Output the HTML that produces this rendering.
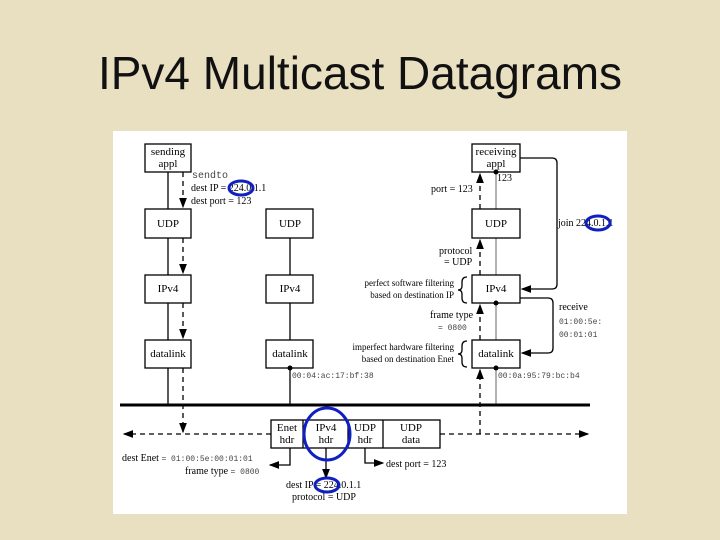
<!DOCTYPE html>
<html><head><style>
body{margin:0;width:720px;height:540px;overflow:hidden;background:#e9dfc1;}
.t{position:absolute;left:0;width:720px;top:46px;text-align:center;font:46px "Liberation Sans",sans-serif;color:#111;}
</style></head><body>
<div class="t">IPv4 Multicast Datagrams</div>
<svg width="720" height="540" style="position:absolute;left:0;top:0" font-family="Liberation Serif,serif" font-size="11">
<defs><marker id="a" markerWidth="8" markerHeight="8" refX="7" refY="4" orient="auto"><path d="M0,1 L8,4 L0,7Z" fill="#000"/></marker></defs>
<rect x="113" y="131" width="514" height="383" fill="#fff"/>
<g stroke="#000" stroke-width="1.3" fill="#fff">
<line x1="168" y1="172" x2="168" y2="405"/>
<line x1="290" y1="238" x2="290" y2="405"/>
<line x1="496" y1="158" x2="496" y2="405" stroke="#888"/>
<rect x="145" y="144" width="46" height="28"/>
<rect x="145" y="209" width="46" height="29"/>
<rect x="145" y="275" width="46" height="28"/>
<rect x="145" y="340" width="46" height="28"/>
<rect x="266" y="209" width="47" height="29"/>
<rect x="266" y="275" width="47" height="28"/>
<rect x="266" y="340" width="47" height="28"/>
<rect x="472" y="144" width="48" height="28"/>
<rect x="472" y="209" width="48" height="29"/>
<rect x="472" y="275" width="48" height="28"/>
<rect x="472" y="340" width="48" height="28"/>
<rect x="271" y="420" width="169" height="28"/>
<line x1="303" y1="420" x2="303" y2="448"/><line x1="348" y1="420" x2="348" y2="448"/><line x1="383" y1="420" x2="383" y2="448"/>
</g>
<line x1="120" y1="405" x2="590" y2="405" stroke="#000" stroke-width="3"/>
<g stroke="#000" stroke-width="1.3" stroke-dasharray="5,4" fill="none">
<line x1="183" y1="172" x2="183" y2="207" marker-end="url(#a)"/>
<line x1="183" y1="238" x2="183" y2="273" marker-end="url(#a)"/>
<line x1="183" y1="303" x2="183" y2="338" marker-end="url(#a)"/>
<line x1="183" y1="368" x2="183" y2="432" marker-end="url(#a)"/>
<line x1="271" y1="434" x2="124" y2="434" marker-end="url(#a)"/>
<line x1="440" y1="434" x2="588" y2="434" marker-end="url(#a)"/>
<line x1="480" y1="434" x2="480" y2="370" marker-end="url(#a)"/>
<line x1="480" y1="340" x2="480" y2="305" marker-end="url(#a)"/>
<line x1="480" y1="275" x2="480" y2="240" marker-end="url(#a)"/>
<line x1="480" y1="209" x2="480" y2="174" marker-end="url(#a)"/>
</g>
<g stroke="#000" stroke-width="1.3" fill="none">
<path d="M520,158 H552 Q557,158 557,163 V284 Q557,289 552,289 H522" marker-end="url(#a)"/>
<path d="M520,298 H548 Q553,298 553,303 V348 Q553,353 548,353 H522" marker-end="url(#a)"/>
<path d="M290,448 V465 H270" marker-end="url(#a)"/>
<path d="M326,448 V478" marker-end="url(#a)"/>
<path d="M365,448 V463 H383" marker-end="url(#a)"/>
<path d="M467,277 q-5,0 -5,5 v4 q0,4 -4,4 q4,0 4,4 v4 q0,5 5,5"/>
<path d="M467,341 q-5,0 -5,5 v4 q0,4 -4,4 q4,0 4,4 v4 q0,5 5,5"/>
</g>
<g fill="#000"><circle cx="496" cy="172" r="2.5"/><circle cx="496" cy="303" r="2.5"/><circle cx="496" cy="368" r="2.5"/><circle cx="290" cy="368" r="2.5"/></g>
<g text-anchor="middle">
<text x="168" y="155">sending</text><text x="168" y="167">appl</text>
<text x="168" y="227">UDP</text><text x="168" y="292">IPv4</text><text x="168" y="357">datalink</text>
<text x="290" y="227">UDP</text><text x="290" y="292">IPv4</text><text x="290" y="357">datalink</text>
<text x="496" y="155">receiving</text><text x="496" y="167">appl</text>
<text x="496" y="227">UDP</text><text x="496" y="292">IPv4</text><text x="496" y="357">datalink</text>
<text x="287" y="431">Enet</text><text x="287" y="443">hdr</text>
<text x="326" y="431">IPv4</text><text x="326" y="443">hdr</text>
<text x="365" y="431">UDP</text><text x="365" y="443">hdr</text>
<text x="411" y="431">UDP</text><text x="411" y="443">data</text>
</g>
<g font-size="10">
<text x="192" y="178" font-family="Liberation Mono,monospace" fill="#444">sendto</text>
<text x="191" y="191">dest IP = 224.0.1.1</text>
<text x="191" y="204">dest port = 123</text>
<text x="497" y="181">123</text>
<text x="431" y="192">port = 123</text>
<text x="439" y="254">protocol</text><text x="444" y="265">= UDP</text>
<text x="558" y="226">join 224.0.1.1</text>
<text x="454" y="286" text-anchor="end" font-size="9">perfect software filtering</text>
<text x="454" y="298" text-anchor="end" font-size="9">based on destination IP</text>
<text x="430" y="318">frame type</text>
<text x="438" y="330" font-family="Liberation Mono,monospace" font-size="8" fill="#444">= 0800</text>
<text x="559" y="310">receive</text>
<text x="559" y="324" font-family="Liberation Mono,monospace" font-size="8" fill="#444">01:00:5e:</text>
<text x="559" y="337" font-family="Liberation Mono,monospace" font-size="8" fill="#444">00:01:01</text>
<text x="454" y="350" text-anchor="end" font-size="9">imperfect hardware filtering</text>
<text x="454" y="362" text-anchor="end" font-size="9">based on destination Enet</text>
<text x="292" y="378" font-family="Liberation Mono,monospace" font-size="8" fill="#444">00:04:ac:17:bf:38</text>
<text x="498" y="378" font-family="Liberation Mono,monospace" font-size="8" fill="#444">00:0a:95:79:bc:b4</text>
<text x="122" y="461">dest Enet <tspan font-family="Liberation Mono,monospace" font-size="8" fill="#444">= 01:00:5e:00:01:01</tspan></text>
<text x="185" y="474">frame type <tspan font-family="Liberation Mono,monospace" font-size="8" fill="#444">= 0800</tspan></text>
<text x="386" y="467">dest port = 123</text>
<text x="286" y="488">dest IP = 224.0.1.1</text>
<text x="292" y="500">protocol = UDP</text>
</g>
<g stroke="#1020c0" stroke-width="3" fill="none">
<ellipse cx="241" cy="188" rx="12" ry="7"/>
<ellipse cx="598" cy="223" rx="12" ry="7"/>
<ellipse cx="327" cy="485" rx="12" ry="7"/>
<ellipse cx="327" cy="434" rx="23" ry="26"/>
</g>
</svg>
</body></html>
